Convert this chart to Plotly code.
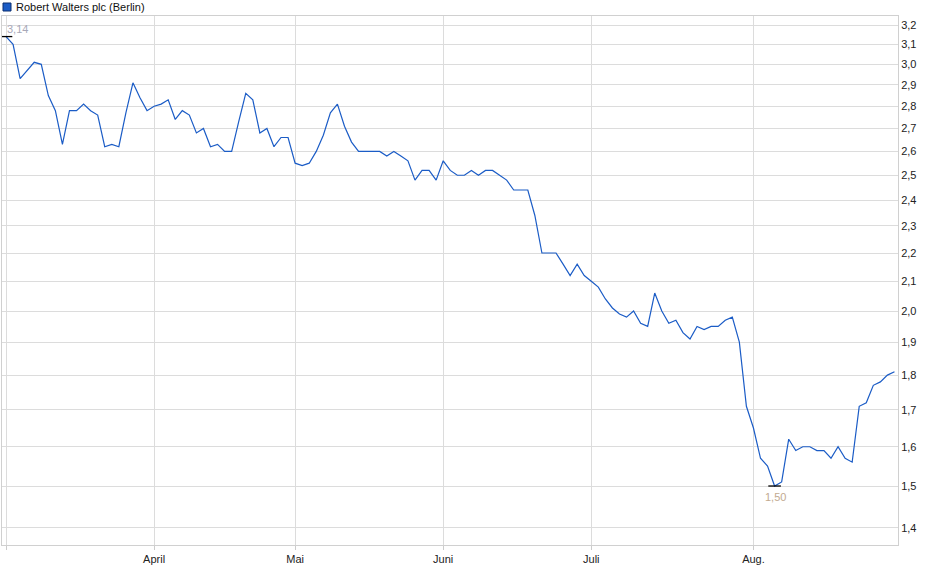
import pandas as pd
import numpy as np
import plotly.graph_objects as go

# trading days (Berlin), Mar 3 - Aug 29 2025
holidays = ["2025-04-18", "2025-04-21", "2025-05-01"]
dates = [d.strftime("%Y-%m-%d") for d in pd.bdate_range("2025-03-03", "2025-08-29")
         if d.strftime("%Y-%m-%d") not in holidays]

prices = [
    3.14, 3.10, 2.93, 2.97, 3.01, 3.00, 2.85, 2.78, 2.63, 2.78,
    2.78, 2.81, 2.78, 2.76, 2.62, 2.63, 2.62, 2.77, 2.91, 2.84,
    2.78, 2.80, 2.81, 2.83, 2.74, 2.78, 2.76, 2.68, 2.70, 2.62,
    2.63, 2.60, 2.60, 2.73, 2.86, 2.83, 2.68, 2.70, 2.62, 2.66,
    2.66, 2.55, 2.54, 2.55, 2.60, 2.67, 2.77, 2.81, 2.71, 2.64,
    2.60, 2.60, 2.60, 2.60, 2.58, 2.60, 2.58, 2.56, 2.48, 2.52,
    2.52, 2.48, 2.56, 2.52, 2.50, 2.50, 2.52, 2.50, 2.52, 2.52,
    2.50, 2.48, 2.44, 2.44, 2.44, 2.34, 2.20, 2.20, 2.20, 2.16,
    2.12, 2.16, 2.12, 2.10, 2.08, 2.04, 2.01, 1.99, 1.98, 2.00,
    1.96, 1.95, 2.06, 2.00, 1.96, 1.97, 1.93, 1.91, 1.95, 1.94,
    1.95, 1.95, 1.97, 1.98, 1.90, 1.71, 1.65, 1.57, 1.55, 1.50,
    1.51, 1.62, 1.59, 1.60, 1.60, 1.59, 1.59, 1.57, 1.60, 1.57,
    1.56, 1.71, 1.72, 1.77, 1.78, 1.80, 1.81,
]

month_ticks = ["2025-03-03", "2025-04-01", "2025-05-02", "2025-06-02", "2025-07-01", "2025-08-01"]
month_labels = ["", "April", "Mai", "Juni", "Juli", "Aug."]
y_ticks = [1.4, 1.5, 1.6, 1.7, 1.8, 1.9, 2.0, 2.1, 2.2, 2.3, 2.4, 2.5, 2.6, 2.7, 2.8, 2.9, 3.0, 3.1, 3.2]
series_name = "Robert Walters plc (Berlin)"

i_max = int(np.argmax(prices))
i_min = int(np.argmin(prices))

FONT = "Liberation Sans, Arial, sans-serif"
LINE = "#1b5cc6"
GRID = "#dcdcdc"

fig = go.Figure()
fig.add_trace(go.Scatter(x=dates, y=prices, mode="lines",
                         line=dict(color=LINE, width=1.2), showlegend=False,
                         hoverinfo="x+y"))
# min / max markers
fig.add_trace(go.Scatter(x=[dates[i_max], dates[i_min]], y=[prices[i_max], prices[i_min]],
                         mode="markers",
                         marker=dict(symbol="line-ew", size=9,
                                     line=dict(color="#000000", width=1.3)),
                         showlegend=False, hoverinfo="skip"))

fig.add_annotation(x=dates[i_max], y=np.log10(prices[i_max]), xref="x", yref="y",
                   text=f"{prices[i_max]:.2f}".replace(".", ","), showarrow=False,
                   xanchor="left", yanchor="bottom", xshift=-1, yshift=0,
                   font=dict(family=FONT, size=11, color="#a8a8b8"))
fig.add_annotation(x=dates[i_min], y=np.log10(prices[i_min]), xref="x", yref="y",
                   text=f"{prices[i_min]:.2f}".replace(".", ","), showarrow=False,
                   xanchor="center", yanchor="top", xshift=1, yshift=-3,
                   font=dict(family=FONT, size=11, color="#c2aa90"))

# legend (square + text)
fig.add_shape(type="rect", xref="paper", yref="paper",
              x0=1.0 / 896, x1=9.0 / 896, y0=1 + 5.0 / 529, y1=1 + 13.0 / 529,
              fillcolor=LINE, line=dict(color="#0b2f70", width=1))
fig.add_annotation(xref="paper", yref="paper", x=12.0 / 896, y=1 + 9.0 / 529,
                   text=series_name, showarrow=False, xanchor="left", yanchor="middle",
                   font=dict(family=FONT, size=11, color="#111111"))

fig.update_layout(
    width=940, height=579,
    margin=dict(l=2, r=42, t=16, b=34),
    paper_bgcolor="white", plot_bgcolor="white",
    separators=",.",
    font=dict(family=FONT, size=11, color="#222222"),
    hovermode="closest",
)
fig.update_xaxes(type="category", range=[-0.57, 126.5],
                 tickmode="array", tickvals=month_ticks, ticktext=month_labels,
                 showgrid=True, gridcolor=GRID, gridwidth=1,
                 showline=True, linecolor="#d0d0d0", linewidth=1, mirror=True,
                 ticks="outside", ticklen=4, tickcolor="#cccccc",
                 tickfont=dict(family=FONT, size=11, color="#222222"),
                 zeroline=False)
fig.update_yaxes(type="log", range=[np.log10(1.3614), np.log10(3.248)],
                 side="right", tickmode="array", tickvals=y_ticks, tickformat=".1f",
                 showgrid=True, gridcolor=GRID, gridwidth=1,
                 showline=True, linecolor="#d0d0d0", linewidth=1, mirror=True,
                 ticks="", tickfont=dict(family=FONT, size=11, color="#222222"),
                 zeroline=False)

fig.write_html("out.html", config={"displayModeBar": False},
               post_script="document.body.style.margin='0';document.body.style.padding='0';")
